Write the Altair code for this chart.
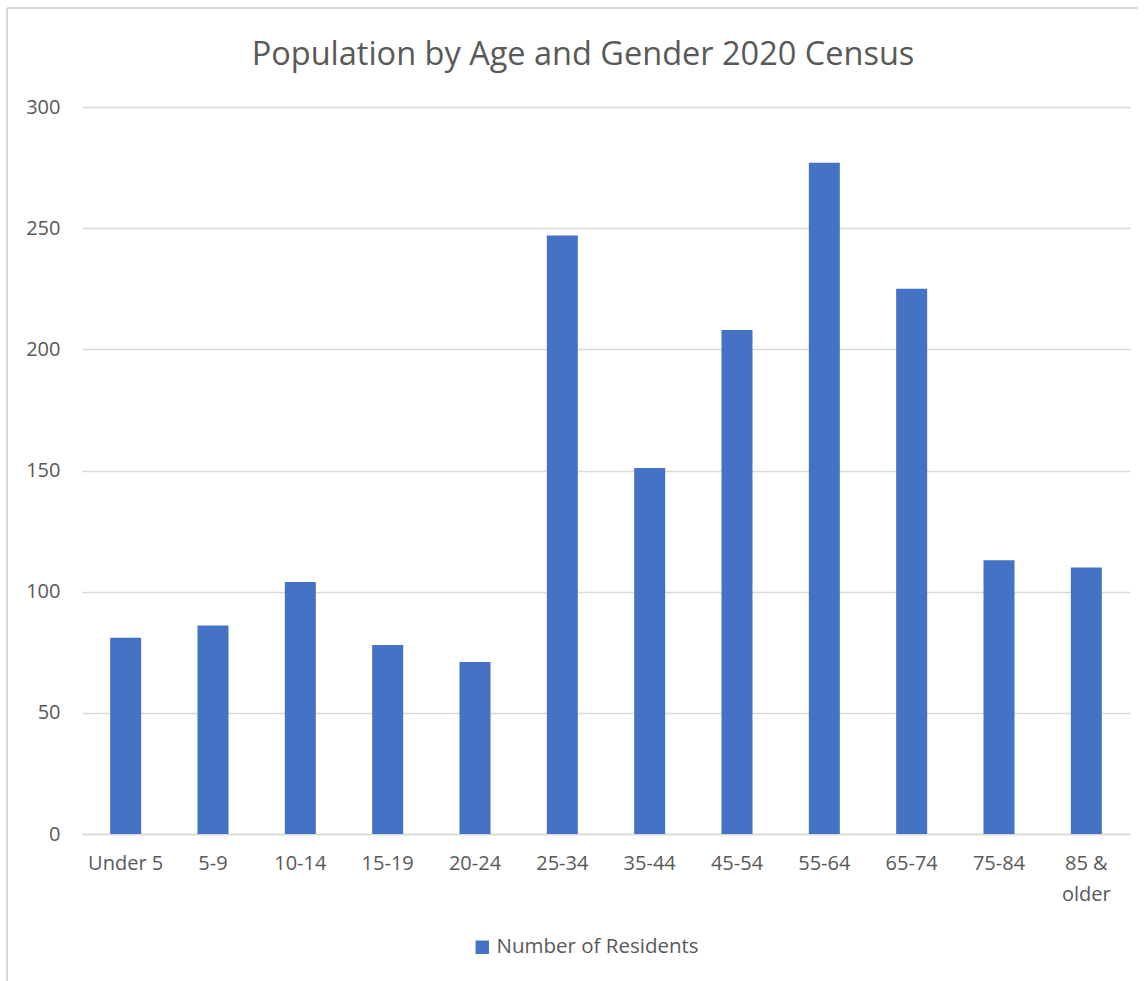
import altair as alt
import pandas as pd

categories = ["Under 5", "5-9", "10-14", "15-19", "20-24", "25-34", "35-44",
              "45-54", "55-64", "65-74", "75-84", "85 & older"]
residents = [81, 86, 104, 78, 71, 247, 151, 208, 277, 225, 113, 110]
series_name = "Number of Residents"

df = pd.DataFrame({"Age": categories, "Residents": residents, "Series": series_name})

W, H = 1048, 727
GRAY = "#595959"
FONT = "Open Sans"

bars = alt.Chart(df).mark_bar(color="#4472C4").encode(
    x=alt.X("Age:N", sort=categories, title=None,
            scale=alt.Scale(paddingInner=0.645, paddingOuter=0.3225),
            axis=alt.Axis(labelAngle=0, ticks=False, domain=True, domainColor="#d9d9d9",
                          domainWidth=1.5, labelFontSize=20, labelColor=GRAY, labelFont=FONT,
                          labelPadding=19, labelLineHeight=31,
                          labelExpr="datum.label == '85 & older' ? ['85 &', 'older'] : datum.label")),
    y=alt.Y("Residents:Q", title=None,
            scale=alt.Scale(domain=[0, 300]),
            axis=alt.Axis(values=[0, 50, 100, 150, 200, 250, 300], ticks=False, domain=False,
                          gridColor="#d9d9d9", gridWidth=1.5, labelFontSize=20,
                          labelColor=GRAY, labelFont=FONT, labelPadding=22)),
    fill=alt.Fill("Series:N", scale=alt.Scale(range=["#4472C4"]),
                  legend=alt.Legend(title=None, orient="none", legendX=390, legendY=830,
                                    symbolType="square", symbolSize=180, labelLimit=400,
                                    labelFontSize=20.5, labelColor=GRAY, labelFont=FONT,
                                    symbolStrokeWidth=0)),
)

frame_top = alt.Chart(df).mark_rule(color="#d9d9d9", strokeWidth=1.5, clip=False).encode(
    x=alt.value(-75), x2=alt.value(W + 8), y=alt.value(-99))
frame_left = alt.Chart(df).mark_rule(color="#d9d9d9", strokeWidth=1.5, clip=False).encode(
    x=alt.value(-75), y=alt.value(-99), y2=alt.value(H + 147))

chart = alt.layer(bars, frame_top, frame_left).properties(
    width=W, height=H,
    title=alt.Title("Population by Age and Gender 2020 Census", fontSize=32.5,
                    fontWeight="normal", color=GRAY, font=FONT, anchor="middle",
                    frame="group", offset=0, dy=64, dx=-23),
    autosize=alt.AutoSizeParams(type="none"),
    padding={"left": 82, "top": 107, "right": 15, "bottom": 147},
    background="white",
).configure_view(stroke=None)

chart.save("out.html", embed_options={"renderer": "svg", "actions": False})
